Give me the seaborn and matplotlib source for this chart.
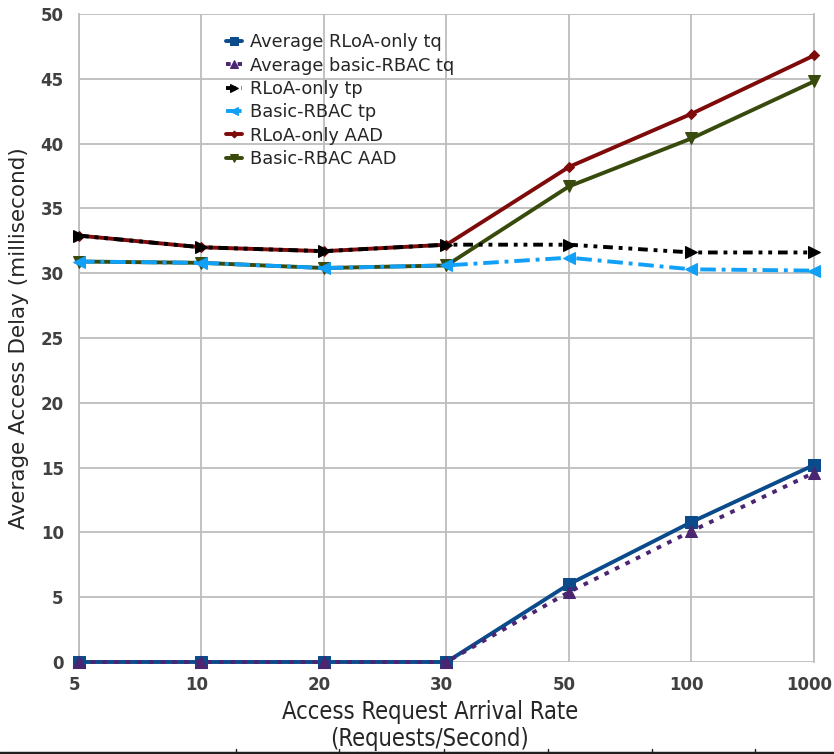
import matplotlib
matplotlib.use("Agg")
import matplotlib.pyplot as plt
import matplotlib.transforms as mtransforms
import seaborn as sns
import pandas as pd
import numpy as np
from matplotlib.lines import Line2D

rates = ["5", "10", "20", "30", "50", "100", "1000"]
rloa_tq = [0, 0, 0, 0, 6.0, 10.8, 15.2]
basic_tq = [0, 0, 0, 0, 5.4, 10.1, 14.6]
rloa_tp = [32.9, 32.0, 31.7, 32.2, 32.2, 31.6, 31.6]
basic_tp = [30.9, 30.8, 30.4, 30.6, 31.2, 30.3, 30.2]
rloa_aad = [32.9, 32.0, 31.7, 32.2, 38.2, 42.3, 46.8]
basic_aad = [30.9, 30.8, 30.4, 30.6, 36.7, 40.4, 44.8]

series_names = ["Average RLoA-only tq", "Average basic-RBAC tq", "RLoA-only tp",
                "Basic-RBAC tp", "RLoA-only AAD", "Basic-RBAC AAD"]
series_vals = [rloa_tq, basic_tq, rloa_tp, basic_tp, rloa_aad, basic_aad]

styles = {
    "Average RLoA-only tq": dict(color="#0B4A8B", ls="-", marker="s", ms=9, z=3),
    "Average basic-RBAC tq": dict(color="#4B2472", ls=(0, (1.2, 1.8)), marker="^", ms=8, z=4),
    "RLoA-only tp": dict(color="#000000", ls=(0, (2.5, 1.5, 1, 1.5, 1, 1.5)), marker=">", ms=8, z=4),
    "Basic-RBAC tp": dict(color="#10A0F8", ls=(0, (4, 1.5, 1, 1.5)), marker="<", ms=8, z=4),
    "RLoA-only AAD": dict(color="#7E0A0A", ls="-", marker="D", ms=5, z=3),
    "Basic-RBAC AAD": dict(color="#384A0C", ls="-", marker="v", ms=8, z=3),
}

sns.set_style("whitegrid", {"grid.color": "#BDBDBD", "axes.edgecolor": "#BDBDBD"})
plt.rcParams["font.family"] = ["DejaVu Sans"]

fig = plt.figure(figsize=(8.34, 7.54), dpi=100)
ax = fig.add_axes([79 / 834, 1 - 662 / 754, (814 - 79) / 834, (662 - 14) / 754])

x = np.arange(len(rates))
for name, vals in zip(series_names, series_vals):
    st = styles[name]
    df = pd.DataFrame({"x": x, "y": vals})
    sns.lineplot(data=df, x="x", y="y", ax=ax, color=st["color"], linestyle=st["ls"],
                 marker=st["marker"], markersize=st["ms"], markeredgecolor=st["color"],
                 linewidth=2.8, label=name, zorder=st["z"], clip_on=False)

ax.set_xlim(0, 6)
ax.set_ylim(0, 50)
ax.set_xticks(x)
ax.set_xticklabels(rates)
ax.set_yticks(range(0, 51, 5))
ax.grid(True, color="#BDBDBD", linewidth=1.3)
for s in ["top", "bottom"]:
    ax.spines[s].set_visible(False)
for s in ["left", "right"]:
    ax.spines[s].set_color("#BDBDBD")
    ax.spines[s].set_linewidth(1.3)
ax.tick_params(axis="both", length=0, labelsize=12, labelcolor="#404040")
ax.tick_params(axis="y", pad=11)
ax.tick_params(axis="x", pad=10)
for lab in ax.get_xticklabels() + ax.get_yticklabels():
    lab.set_fontweight("bold")
shift = mtransforms.ScaledTranslation(-5 / 100, 0, fig.dpi_scale_trans)
for lab in ax.get_xticklabels():
    lab.set_transform(lab.get_transform() + shift)

ax.set_xlabel("Access Request Arrival Rate\n(Requests/Second)", fontsize=17,
              fontstretch="condensed", linespacing=1.15)
ax.xaxis.set_label_coords((430 - 79) / (814 - 79), -0.059, transform=ax.transAxes)
ax.xaxis.label.set_va("top")
ax.set_ylabel("Average Access Delay (millisecond)", fontsize=15.5, labelpad=8)

leg = ax.legend(loc="upper left", bbox_to_anchor=(0.178, 0.995), frameon=False,
                fontsize=12.8, handlelength=0.9, handletextpad=0.45, labelspacing=0.3,
                markerscale=0.7)

# bottom border line with small ticks
fig.add_artist(Line2D([0, 1], [1.5 / 754, 1.5 / 754], color="#202020", lw=2.5,
                      transform=fig.transFigure))
for px in [236, 339, 444, 548, 652, 755]:
    fig.add_artist(Line2D([px / 834, px / 834], [1.5 / 754, 5 / 754], color="#202020",
                          lw=1, transform=fig.transFigure))

fig.savefig("out.png", dpi=100)
